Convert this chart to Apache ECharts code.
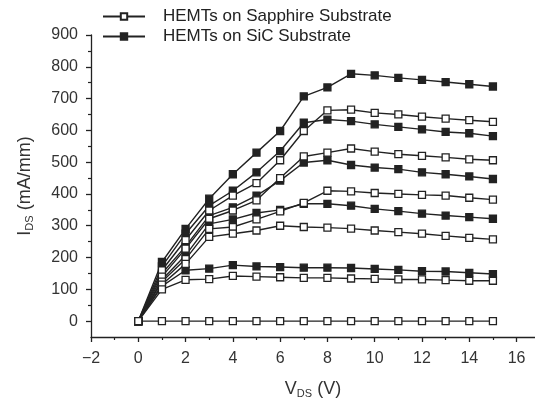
<!DOCTYPE html>
<html>
<head>
<meta charset="utf-8">
<script src="https://cdn.jsdelivr.net/npm/echarts@6/dist/echarts.min.js"></script>
<style>
  html, body { margin: 0; padding: 0; background: #fff; }
  #chart { width: 535px; height: 404px; }
</style>
</head>
<body>
<div id="chart"></div>
<script>
// drain voltage (V)
const vds = [0, 1, 2, 3, 4, 5, 6, 7, 8, 9, 10, 11, 12, 13, 14, 15];
// SiC substrate curves (filled squares), mA/mm
const sic1 = [0, 186, 290, 385, 462, 530, 598, 707, 735, 778, 773, 765, 759, 752, 745, 738];
const sic2 = [0, 172, 275, 363, 410, 468, 535, 624, 634, 629, 619, 611, 603, 595, 591, 582];
const sic3 = [0, 150, 235, 332, 358, 395, 442, 499, 506, 491, 483, 478, 468, 462, 455, 447];
const sic4 = [0, 130, 207, 306, 320, 340, 350, 369, 369, 363, 353, 346, 338, 332, 327, 322];
const sic5 = [0, 110, 160, 165, 176, 172, 170, 168, 168, 167, 164, 161, 157, 156, 152, 148];
// Sapphire substrate curves (open squares), mA/mm
const sap1 = [0, 160, 255, 348, 395, 434, 506, 598, 663, 665, 655, 650, 643, 637, 632, 627];
const sap2 = [0, 140, 228, 322, 348, 380, 450, 518, 530, 543, 533, 525, 520, 515, 509, 506];
const sap3 = [0, 124, 195, 290, 296, 320, 345, 372, 410, 408, 403, 400, 397, 395, 388, 382];
const sap4 = [0, 115, 180, 265, 275, 285, 300, 296, 294, 291, 285, 280, 275, 268, 262, 257];
const sap5 = [0, 100, 130, 132, 142, 140, 138, 136, 136, 134, 133, 131, 131, 129, 127, 127];
const sap6 = [0, 0, 0, 0, 0, 0, 0, 0, 0, 0, 0, 0, 0, 0, 0, 0];

const xTicks = [-2, 0, 2, 4, 6, 8, 10, 12, 14, 16];
const xMinor = [-1, 1, 3, 5, 7, 9, 11, 13, 15];
const yTicks = [0, 100, 200, 300, 400, 500, 600, 700, 800, 900];
const yMinor = [50, 150, 250, 350, 450, 550, 650, 750, 850];

const SAP = 'HEMTs on Sapphire Substrate';
const SIC = 'HEMTs on SiC Substrate';
const ink = '#222';
const font = 'Liberation Sans, Arial, sans-serif';

let pairs = function(arr) {
    return vds.map(function(v, i) { return [v, arr[i]]; });
};
let makeSeries = function(name, arr, filled) {
    return {
        name: name,
        type: 'line',
        xAxisIndex: 0,
        yAxisIndex: 0,
        data: pairs(arr),
        symbol: 'rect',
        symbolSize: 7,
        showAllSymbol: true,
        lineStyle: { color: ink, width: 1.4 },
        itemStyle: { color: filled ? ink : '#fff', borderColor: ink, borderWidth: 1.3 },
        emphasis: { disabled: true },
        animation: false
    };
};

let series = [];
[sic1, sic2, sic3, sic4, sic5].forEach(function(a) { series.push(makeSeries(SIC, a, true)); });
[sap1, sap2, sap3, sap4, sap5, sap6].forEach(function(a) { series.push(makeSeries(SAP, a, false)); });

let titleRich = {
    n: { fontFamily: font, fontSize: 18, color: '#333' },
    s: { fontFamily: font, fontSize: 11, color: '#333', verticalAlign: 'bottom', padding: [8, 0, 0, 0] }
};

let chart = echarts.init(document.getElementById('chart'));
let option = {
    backgroundColor: '#fff',
    animation: false,
    legend: {
        data: [SAP, SIC],
        orient: 'vertical',
        left: 97,
        top: 3,
        itemWidth: 42,
        itemHeight: 8,
        itemGap: 3,
        textStyle: { fontFamily: font, fontSize: 17, color: '#222', padding: [0, 0, 0, 13] }
    },
    grid: { left: 91, right: 0, top: 35, bottom: 65, containLabel: false },
    xAxis: [
        {
            type: 'value',
            min: -2,
            max: 16.78,
            position: 'bottom',
            splitLine: { show: false },
            axisLine: { onZero: false, lineStyle: { color: ink, width: 1.3 } },
            axisTick: { customValues: xTicks, length: 5, lineStyle: { color: ink, width: 1.3 } },
            axisLabel: {
                customValues: xTicks,
                margin: 14,
                fontFamily: font, fontSize: 16, color: '#333',
                formatter: function(v) { return v < 0 ? '\u2212' + Math.abs(v) : String(v); }
            },
            name: '{n|V}{s|DS}{n| (V)}',
            nameLocation: 'middle',
            nameGap: 43,
            nameTextStyle: { rich: titleRich }
        },
        {
            type: 'value',
            min: -2,
            max: 16.78,
            position: 'bottom',
            splitLine: { show: false },
            axisLine: { show: false, onZero: false },
            axisTick: { customValues: xMinor, length: 3, lineStyle: { color: ink, width: 1.2 } },
            axisLabel: { show: false }
        }
    ],
    yAxis: [
        {
            type: 'value',
            min: -50,
            max: 900,
            position: 'left',
            splitLine: { show: false },
            axisLine: { show: true, onZero: false, lineStyle: { color: ink, width: 1.3 } },
            axisTick: { show: true, customValues: yTicks, length: 5, lineStyle: { color: ink, width: 1.3 } },
            axisLabel: { customValues: yTicks, margin: 13, fontFamily: font, fontSize: 16, color: '#333' },
            name: '{n|I}{s|DS}{n| (mA/mm)}',
            nameLocation: 'middle',
            nameGap: 56,
            nameTextStyle: { rich: titleRich }
        },
        {
            type: 'value',
            min: -50,
            max: 900,
            position: 'left',
            splitLine: { show: false },
            axisLine: { show: false, onZero: false },
            axisTick: { show: true, customValues: yMinor, length: 3, lineStyle: { color: ink, width: 1.2 } },
            axisLabel: { show: false }
        }
    ],
    series: series
};
chart.setOption(option);
</script>
</body>
</html>
